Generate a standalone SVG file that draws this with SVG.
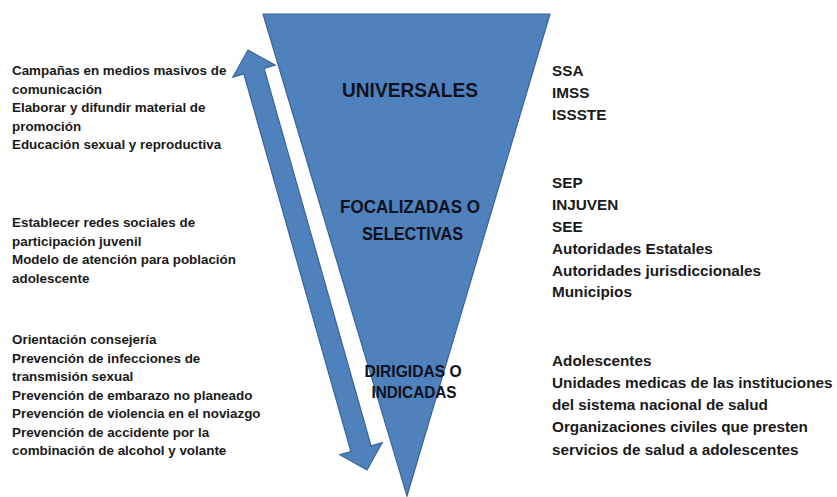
<svg xmlns="http://www.w3.org/2000/svg" width="837" height="497" viewBox="0 0 837 497">
<style>
.shape{fill:#4f81bd;stroke:#3a6597;stroke-width:1.2;stroke-linejoin:miter}
.lt{font-family:"Liberation Sans",Arial,sans-serif;font-weight:bold;font-size:13.4px;fill:#1a1a1a}
.rt{font-family:"Liberation Sans",Arial,sans-serif;font-weight:bold;font-size:15.3px;fill:#1a1a1a}
.ct{font-family:"Liberation Sans",Arial,sans-serif;font-weight:bold;fill:#0f1020;text-anchor:middle}
</style>
<rect width="837" height="497" fill="#ffffff"/>
<g id="funnel">
<polygon class="shape" points="263,14 550,14 407,496"/>
</g>
<g id="connectors">
<g transform="translate(248,50) rotate(-15.82)">
<polygon class="shape" points="0,0 22,22 10.5,22 10.5,414.5 22,414.5 0,436.5 -22,414.5 -10.5,414.5 -10.5,22 -22,22"/>
</g>
</g>
<g id="label-universales">
<text class="ct" x="410" y="96.5" font-size="20.5" textLength="136" lengthAdjust="spacingAndGlyphs">UNIVERSALES</text>
</g>
<g id="label-focalizadas">
<text class="ct" x="410" y="213" font-size="18" textLength="140" lengthAdjust="spacingAndGlyphs">FOCALIZADAS O</text>
<text class="ct" x="412.5" y="240" font-size="18" textLength="101" lengthAdjust="spacingAndGlyphs">SELECTIVAS</text>
</g>
<g id="label-dirigidas">
<text class="ct" x="413" y="377" font-size="16" textLength="97" lengthAdjust="spacingAndGlyphs">DIRIGIDAS O</text>
<text class="ct" x="414" y="398" font-size="16" textLength="85" lengthAdjust="spacingAndGlyphs">INDICADAS</text>
</g>
<g id="left-universales">
<text class="lt" x="12" y="75">Campañas en medios masivos de</text>
<text class="lt" x="12" y="93.5">comunicación</text>
<text class="lt" x="12" y="112">Elaborar y difundir material de</text>
<text class="lt" x="12" y="130.5">promoción</text>
<text class="lt" x="12" y="149">Educación sexual y reproductiva</text>
</g>
<g id="left-focalizadas">
<text class="lt" x="12" y="227">Establecer redes sociales de</text>
<text class="lt" x="12" y="245.5">participación juvenil</text>
<text class="lt" x="12" y="264">Modelo de atención para población</text>
<text class="lt" x="12" y="282.5">adolescente</text>
</g>
<g id="left-dirigidas">
<text class="lt" x="12" y="344">Orientación consejería</text>
<text class="lt" x="12" y="362.5">Prevención de infecciones de</text>
<text class="lt" x="12" y="381">transmisión sexual</text>
<text class="lt" x="12" y="399.5">Prevención de embarazo no planeado</text>
<text class="lt" x="12" y="418">Prevención de violencia en el noviazgo</text>
<text class="lt" x="12" y="436.5">Prevención de accidente por la</text>
<text class="lt" x="12" y="455">combinación de alcohol y volante</text>
</g>
<g id="right-universales">
<text class="rt" x="552" y="76">SSA</text>
<text class="rt" x="552" y="98">IMSS</text>
<text class="rt" x="552" y="120">ISSSTE</text>
</g>
<g id="right-focalizadas">
<text class="rt" x="552" y="188">SEP</text>
<text class="rt" x="552" y="210">INJUVEN</text>
<text class="rt" x="552" y="232">SEE</text>
<text class="rt" x="552" y="254">Autoridades Estatales</text>
<text class="rt" x="552" y="276">Autoridades jurisdiccionales</text>
<text class="rt" x="552" y="297">Municipios</text>
</g>
<g id="right-dirigidas">
<text class="rt" x="552" y="366">Adolescentes</text>
<text class="rt" x="552" y="388">Unidades medicas de las instituciones</text>
<text class="rt" x="552" y="410">del sistema nacional de salud</text>
<text class="rt" x="552" y="432">Organizaciones civiles que presten</text>
<text class="rt" x="552" y="455">servicios de salud a adolescentes</text>
</g>
</svg>
